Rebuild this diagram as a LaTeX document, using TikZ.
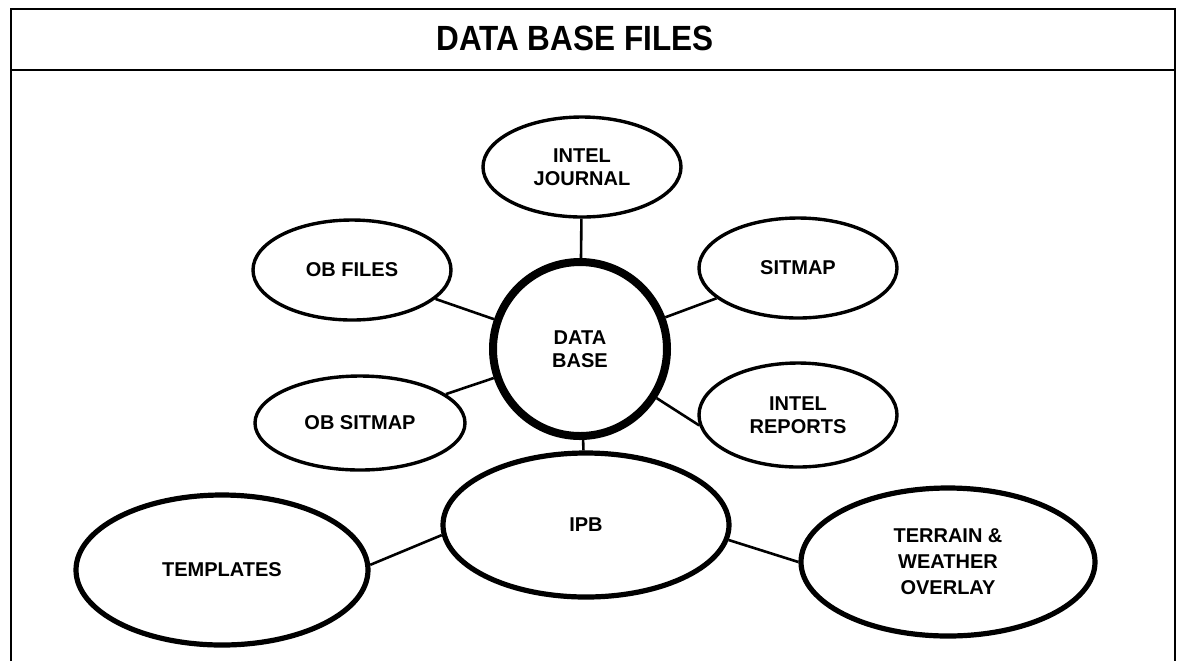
\documentclass[tikz,border=0pt]{standalone}
\usepackage{fontspec}
\setmainfont{Liberation Sans}
\newfontfamily\headfont[FakeStretch=0.9]{Liberation Sans}
\usetikzlibrary{shapes.geometric}
\tikzset{
  file/.style={draw, ellipse, line width=1.7pt, inner sep=0pt, align=center,
    font=\fontsize{10}{11.5}\selectfont\bfseries,
    minimum width=99pt, minimum height=50pt},
  bigfile/.style={file, line width=2.6pt},
  hub/.style={draw, circle, line width=4pt, inner sep=0pt, align=center,
    font=\fontsize{10}{11.5}\selectfont\bfseries, minimum size=87pt},
  link/.style={line width=1.3pt}
}
\begin{document}
\begin{tikzpicture}[x=0.5pt, y=-0.5pt]
  \useasboundingbox (0,0) rectangle (1179,661);
  % Frame and title bar
  \draw[line width=1.3pt] (11,661) -- (11,9) -- (1175,9) -- (1175,661);
  \draw[line width=1.3pt] (11,70) -- (1175,70);
  \node[anchor=base, font=\headfont\bfseries\fontsize{17.5}{20}\selectfont] (title) at (575,50) {DATA BASE FILES};
  % Files
  \node[hub] (base) at (580,349) {DATA\\BASE};
  \node[file] (journal) at (582,167) {INTEL\\JOURNAL};
  \node[file] (obfiles) at (352,270) {OB FILES};
  \node[file] (sitmap) at (798,268) {SITMAP};
  \node[file, minimum width=105pt, minimum height=47pt] (obsitmap) at (360,423) {OB SITMAP};
  \node[file, minimum height=52pt] (reports) at (798,415) {INTEL\\REPORTS};
  \node[bigfile, minimum width=143pt, minimum height=72pt] (ipb) at (586,525) {IPB};
  \node[bigfile, minimum width=146pt, minimum height=75pt] (templates) at (222,570) {TEMPLATES};
  \node[bigfile, minimum width=147pt, minimum height=74pt,
    font=\fontsize{10}{13}\selectfont\bfseries] (terrain) at (948,562) {TERRAIN \&\\WEATHER\\OVERLAY};
  % Links
  \draw[link] (base) -- (journal);
  \draw[link] (base) -- (obfiles);
  \draw[link] (base) -- (sitmap);
  \draw[link] (base) -- (obsitmap);
  \draw[link] (base) -- (reports.186);
  \draw[link] (base) -- (ipb);
  \draw[link] (ipb.184) -- (templates.2);
  \draw[link] (ipb.354) -- (terrain.west);
\end{tikzpicture}
\end{document}
